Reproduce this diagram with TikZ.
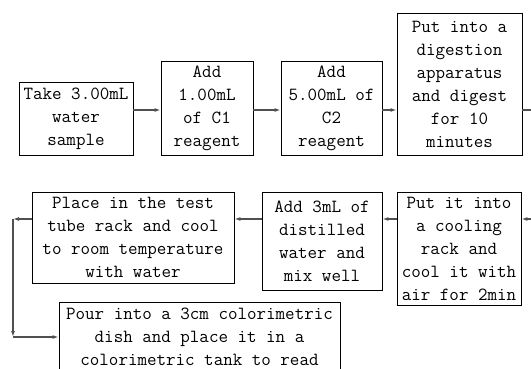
\documentclass[tikz,border=0pt]{standalone}
\usepackage{fontspec}
\usetikzlibrary{arrows.meta}
\definecolor{lineg}{RGB}{80,80,80}
\tikzset{
  box/.style={draw=black, line width=0.9pt, inner sep=0pt, align=center,
    font=\fontsize{18.5}{23}\selectfont\ttfamily},
  conn/.style={draw=lineg, line width=1.3pt, -{Latex[length=6pt,width=4pt]}},
  plain/.style={draw=lineg, line width=1.3pt},
}
\begin{document}
\begin{tikzpicture}[x=1pt,y=-1pt]
\useasboundingbox (0,0) rectangle (531,369);
\clip (0,0) rectangle (531,369);
\fill[white] (0,0) rectangle (531,369);
% row 1
\node[box, minimum width=114pt, minimum height=73pt] (b1) at (76,118.5) {Take 3.00mL\\water\\sample};
\node[box, minimum width=92pt, minimum height=94pt] (b2) at (207,108) {Add\\1.00mL\\of C1\\reagent};
\node[box, minimum width=101pt, minimum height=94pt] (b3) at (331.5,108) {Add\\5.00mL of\\C2\\reagent};
\node[box, minimum width=125pt, minimum height=142pt] (b4) at (459.5,84) {Put into a\\digestion\\apparatus\\and digest\\for 10\\minutes};
% row 2
\node[box, minimum width=124pt, minimum height=113pt] (b7) at (459,248.5) {Put it into\\a cooling\\rack and\\cool it with\\air for 2min};
\node[box, minimum width=120pt, minimum height=98pt] (b6) at (322,241) {Add 3mL of\\distilled\\water and\\mix well};
\node[box, minimum width=202pt, minimum height=91pt] (b5) at (133,237.5) {Place in the test\\tube rack and cool\\to room temperature\\with water};
\node[box, minimum width=281pt, inner ysep=6pt, anchor=north] (b8) at (199.5,302) {Pour into a 3cm colorimetric\\dish and place it in a\\colorimetric tank to read};
% helper coordinates
\coordinate (r1) at (0,110);
\coordinate (r2) at (0,219);
\coordinate (e1) at (545,110);
\coordinate (e2) at (545,219);
\coordinate (l1) at (13,219);
\coordinate (l2) at (13,337);
% connectors
\draw[conn] (b1.east |- r1) -- (b2.west |- r1);
\draw[conn] (b2.east |- r1) -- (b3.west |- r1);
\draw[conn] (b3.east |- r1) -- (b4.west |- r1);
\draw[plain] (b4.east |- r1) -- (e1) -- (e2);
\draw[conn] (e2) -- (b7.east |- r2);
\draw[conn] (b7.west |- r2) -- (b6.east |- r2);
\draw[conn] (b6.west |- r2) -- (b5.east |- r2);
\draw[conn] (b5.west |- r2) -- (l1);
\draw[conn] (l1) -- (l2);
\draw[conn] (l2) -- (b8.west |- l2);
\end{tikzpicture}
\end{document}
